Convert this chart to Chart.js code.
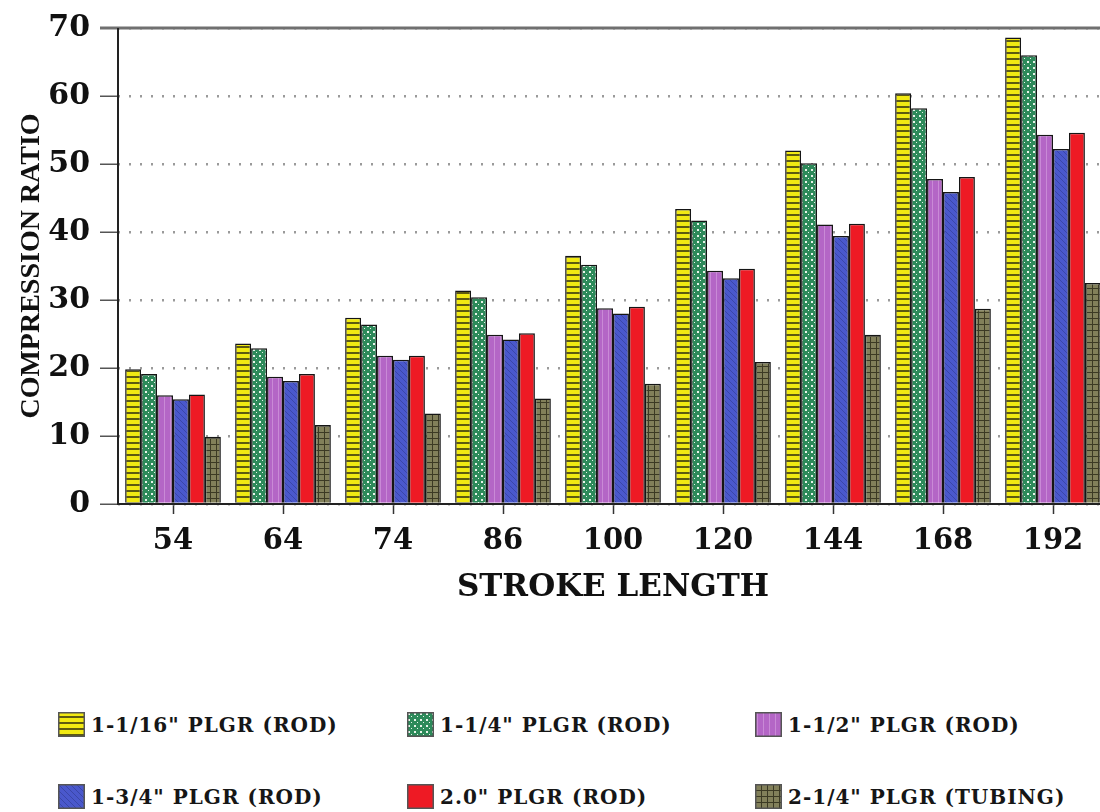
<!DOCTYPE html>
<html>
<head>
<meta charset="utf-8">
<script src="https://cdn.jsdelivr.net/npm/chart.js@4"></script>
<style>
  html, body { margin: 0; padding: 0; background: #fff; overflow: hidden; }
  #wrap { position: relative; width: 1110px; height: 610px; }
  #legend { position: absolute; left: 0; top: 610px; width: 1100px; height: 202px; }
  .item { position: absolute; display: flex; align-items: center;
    font-family: "DejaVu Serif", serif; font-weight: bold; font-size: 20px; letter-spacing: 1px; color: #161616; }
  .item canvas { margin-right: 6px; }
</style>
</head>
<body>
<div id="wrap"><canvas id="bar-chart"></canvas></div>
<div id="legend"></div>
<script>
var categories = ["54", "64", "74", "86", "100", "120", "144", "168", "192"];
var seriesNames = [
  '1-1/16" PLGR (ROD)', '1-1/4" PLGR (ROD)', '1-1/2" PLGR (ROD)',
  '1-3/4" PLGR (ROD)', '2.0" PLGR (ROD)', '2-1/4" PLGR (TUBING)'
];
var plgr1116 = [19.8, 23.6, 27.4, 31.4, 36.5, 43.4, 52.0, 60.4, 68.6];
var plgr114 = [19.1, 22.9, 26.4, 30.4, 35.2, 41.7, 50.1, 58.2, 66.0];
var plgr112 = [16.0, 18.7, 21.8, 24.9, 28.8, 34.3, 41.1, 47.8, 54.3];
var plgr134 = [15.4, 18.1, 21.2, 24.2, 28.0, 33.2, 39.4, 45.9, 52.2];
var plgr20 = [16.1, 19.1, 21.8, 25.1, 29.0, 34.6, 41.2, 48.1, 54.6];
var plgr214 = [9.9, 11.6, 13.3, 15.5, 17.7, 20.9, 24.9, 28.7, 32.5];
var yTicks = [0, 10, 20, 30, 40, 50, 60, 70];

// little tile patterns to mimic the hatched fills of the scan
function makePattern(kind) {
  var c = document.createElement("canvas");
  var g = c.getContext("2d");
  c.width = 6; c.height = 6;
  switch (kind) {
    case "yellow":
      g.fillStyle = "#f2ea12"; g.fillRect(0, 0, 6, 6);
      g.fillStyle = "#5e5a10"; g.fillRect(0, 4, 6, 2);
      break;
    case "green":
      g.fillStyle = "#2d8a5a"; g.fillRect(0, 0, 6, 6);
      g.fillStyle = "#e8f4ea"; g.fillRect(1, 1, 2, 2); g.fillRect(4, 4, 1, 1);
      break;
    case "purple":
      g.fillStyle = "#b466c6"; g.fillRect(0, 0, 6, 6);
      g.fillStyle = "#c98ad6"; g.fillRect(2, 0, 1, 6);
      break;
    case "blue":
      g.fillStyle = "#4a58cc"; g.fillRect(0, 0, 6, 6);
      g.fillStyle = "#3a46a8"; g.fillRect(0, 0, 1, 1); g.fillRect(1, 1, 1, 1);
      g.fillRect(2, 2, 1, 1); g.fillRect(3, 3, 1, 1); g.fillRect(4, 4, 1, 1); g.fillRect(5, 5, 1, 1);
      break;
    case "red":
      g.fillStyle = "#ee1a24"; g.fillRect(0, 0, 6, 6);
      break;
    case "olive":
      g.fillStyle = "#82805a"; g.fillRect(0, 0, 6, 6);
      g.fillStyle = "#3c3a24"; g.fillRect(0, 0, 6, 1); g.fillRect(0, 0, 1, 6);
      break;
  }
  return g.createPattern(c, "repeat");
}

var kinds = ["yellow", "green", "purple", "blue", "red", "olive"];
var values = [plgr1116, plgr114, plgr112, plgr134, plgr20, plgr214];

var datasets = values.map(function (v, i) {
  return {
    label: seriesNames[i],
    data: v,
    backgroundColor: makePattern(kinds[i]),
    borderColor: "#151515",
    borderWidth: 1.5,
    borderSkipped: "bottom",
    categoryPercentage: 0.87,
    barPercentage: 1.0
  };
});

// solid top line at 70 and solid axes (grid lines are dotted)
var framePlugin = {
  id: "frame",
  afterDraw: function (chart) {
    var ctx = chart.ctx, a = chart.chartArea, y = chart.scales.y;
    var top = y.getPixelForValue(70), bottom = y.getPixelForValue(0);
    ctx.save();
    ctx.strokeStyle = "#707070"; ctx.lineWidth = 3;
    ctx.beginPath(); ctx.moveTo(a.left - 18, top); ctx.lineTo(a.right, top); ctx.stroke();
    ctx.strokeStyle = "#222"; ctx.lineWidth = 2;
    ctx.beginPath(); ctx.moveTo(a.left, top); ctx.lineTo(a.left, bottom); ctx.lineTo(a.right, bottom); ctx.stroke();
    ctx.restore();
  }
};

var ctx = document.getElementById("bar-chart").getContext("2d");
var barChart = new Chart(ctx, {
  type: "bar",
  data: { labels: categories, datasets: datasets },
  options: {
    responsive: true,
    maintainAspectRatio: false,
    animation: false,
    layout: { padding: { top: 21, left: 0, right: 2, bottom: 0 } },
    plugins: { legend: { display: false }, tooltip: { enabled: false } },
    scales: {
      x: {
        afterFit: function (s) { s.height = 106; },
        grid: { display: true, drawOnChartArea: false, offset: false, tickLength: 10, tickColor: "#333", tickWidth: 1.5 },
        border: { display: false },
        ticks: { color: "#111", padding: 10, font: { family: "DejaVu Serif", weight: "bold", size: 29 } },
        title: { display: true, text: "STROKE LENGTH", color: "#111", padding: { top: 0, bottom: 3 },
          font: { family: "DejaVu Serif", weight: "bold", size: 31 } }
      },
      y: {
        min: 0, max: 70,
        afterFit: function (s) { s.width = 118; },
        afterBuildTicks: function (s) { s.ticks = yTicks.map(function (v) { return { value: v }; }); },
        grid: { color: "#9a9a9a", lineWidth: 2.5, tickLength: 18, tickColor: "#555", tickWidth: 1.5 },
        border: { display: false, dash: [2, 9] },
        ticks: { color: "#111", padding: 10, font: { family: "DejaVu Serif", weight: "bold", size: 30 } },
        title: { display: true, text: "COMPRESSION RATIO", color: "#111", padding: 15,
          font: { family: "Liberation Serif", weight: "bold", size: 28 } }
      }
    }
  },
  plugins: [framePlugin]
});

// legend in a 3 x 2 grid under the chart
var legendPos = [[58, 115], [407, 115], [755, 115], [58, 187], [407, 187], [755, 187]];
var legendEl = document.getElementById("legend");
barChart.data.datasets.forEach(function (ds, i) {
  var item = document.createElement("div");
  item.className = "item";
  item.style.left = legendPos[i][0] + "px";
  item.style.top = (legendPos[i][1] - 13) + "px";
  var sw = document.createElement("canvas");
  sw.width = 27; sw.height = 25;
  var g = sw.getContext("2d");
  g.fillStyle = ds.backgroundColor; g.fillRect(0, 0, 27, 25);
  g.strokeStyle = "#555"; g.lineWidth = 1.5; g.strokeRect(0.75, 0.75, 25.5, 23.5);
  item.appendChild(sw);
  var t = document.createElement("span");
  t.textContent = ds.label;
  item.appendChild(t);
  legendEl.appendChild(item);
});
</script>
</body>
</html>
